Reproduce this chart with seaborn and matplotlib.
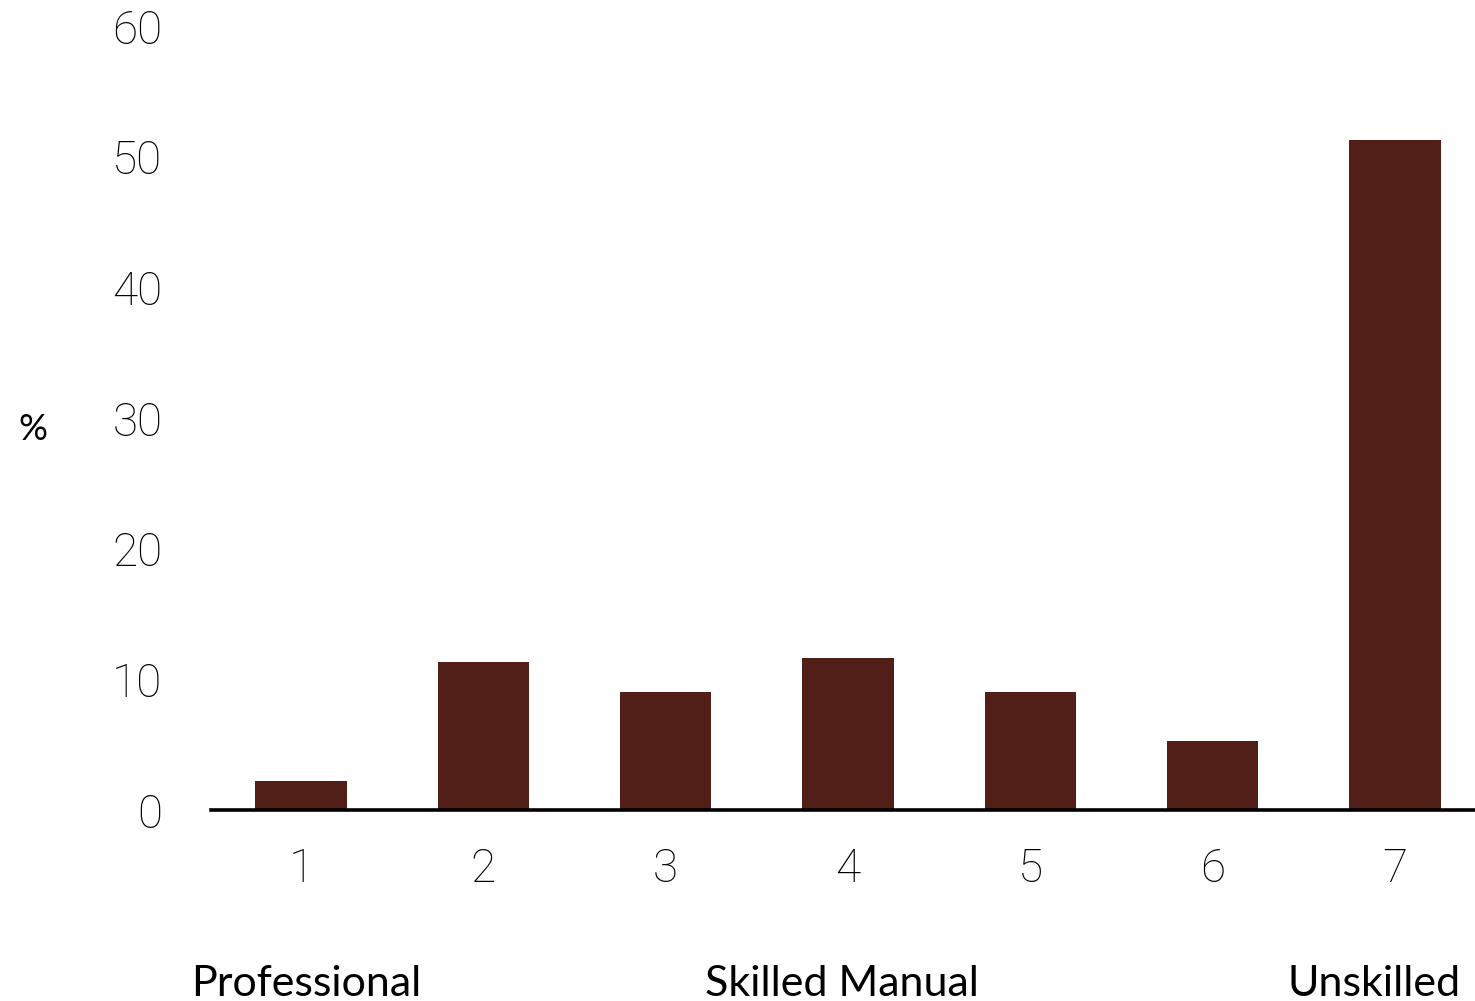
import matplotlib
matplotlib.use("Agg")
import matplotlib.pyplot as plt
import seaborn as sns
import pandas as pd

categories = ["1", "2", "3", "4", "5", "6", "7"]
values = [2.2, 11.3, 9.0, 11.6, 9.0, 5.3, 51.3]
yticks = [0, 10, 20, 30, 40, 50, 60]
group_labels = ["Professional", "Skilled Manual", "Unskilled"]

sns.set_theme(style="white")
plt.rcParams['font.family'] = ['Roboto', 'DejaVu Sans']

df = pd.DataFrame({"cat": categories, "val": values})

fig = plt.figure(figsize=(14.75, 10.01), dpi=100)
ax = fig.add_axes([211/1475, 191/1001, 1 - 211/1475, (810-26)/1001])
sns.barplot(data=df, x="cat", y="val", color="#521E18", width=0.5, ax=ax,
            saturation=1, edgecolor="none")
ax.set_xlim(-0.494, 6.439)
ax.set_ylim(0, 60)
ax.set_yticks(yticks)
ax.set_yticklabels([str(t) for t in yticks], fontsize=33, fontweight="light", color="black")
ax.set_xticklabels(categories, fontsize=33, fontweight="light", color="black")
ax.tick_params(axis="y", length=0, pad=35)
ax.tick_params(axis="x", length=0, pad=27)
ax.set_xlabel("")
ax.set_ylabel("")
for s in ["top", "right", "left"]:
    ax.spines[s].set_visible(False)
ax.spines["bottom"].set_linewidth(2.6)
ax.spines["bottom"].set_color("black")

fig.text(33/1475, 1 - 430/1001, "%", fontsize=26, ha="center", va="center",
         family=["Lato", "DejaVu Sans"], color="black")
gl_font = ["Lato", "DejaVu Sans"]
fig.text(191/1475, 1 - 996/1001, group_labels[0], fontsize=31, ha="left", va="baseline", family=gl_font, color="black")
fig.text(842/1475, 1 - 996/1001, group_labels[1], fontsize=31, ha="center", va="baseline", family=gl_font, color="black")
fig.text(1461/1475, 1 - 996/1001, group_labels[2], fontsize=31, ha="right", va="baseline", family=gl_font, color="black")

fig.savefig("out.png", dpi=100, facecolor="white")
